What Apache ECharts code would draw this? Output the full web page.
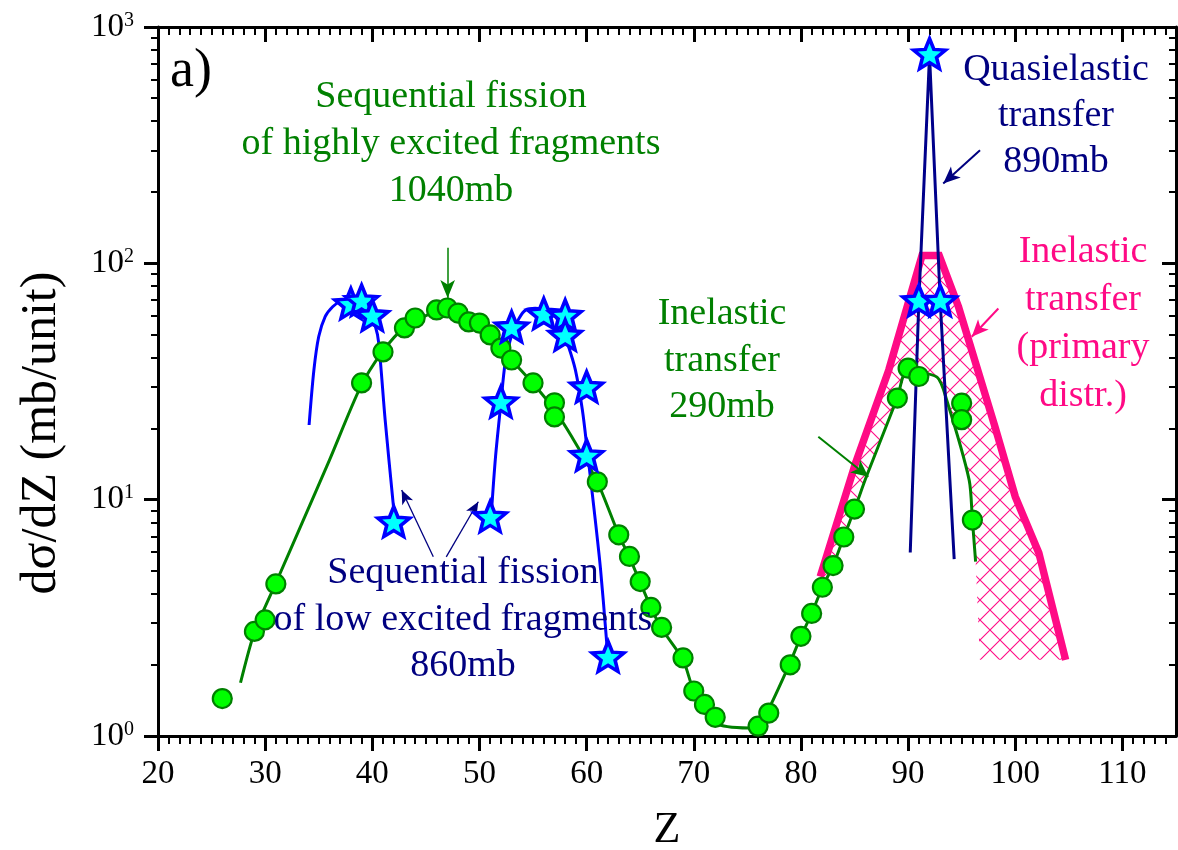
<!DOCTYPE html>
<html><head><meta charset="utf-8">
<script src="https://cdn.jsdelivr.net/npm/echarts@6/dist/echarts.min.js"></script>
<style>html,body{margin:0;padding:0;background:#fff;}#c{width:1178px;height:850px;}</style>
</head><body><div id="c"></div>
<script>
// ---- tick values ----
const xMajor = [20, 30, 40, 50, 60, 70, 80, 90, 100, 110];
const yMajor = [1, 10, 100, 1000];

// ---- data ----
const greenPoints = [[26,1.44],[29,2.77],[30,3.1],[31,4.4],[39,31.2],[41,42.2],[43,53.3],[44,58.7],[46,63.5],[47,64.7],[48,61.6],[49,56.5],[50,55.9],[51,49.8],[52,43.8],[53,39],[55,31.2],[57,25.7],[57,22.4],[61,11.9],[63,7.1],[64,5.75],[65,4.5],[66,3.5],[67,2.88],[69,2.14],[70,1.55],[71,1.36],[72,1.2],[76,1.1],[77,1.25],[79,2.0],[80,2.64],[81,3.3],[82,4.26],[83,5.26],[84,6.95],[85,9.12],[89,26.9],[90,36],[91,33.2],[95,25.6],[95,21.8],[96,8.2]];
const greenFit = [[27.7,1.68],[29,2.75],[31,4.44],[33.5,8.07],[36,14.7],[38.9,30],[40.9,42],[43,53.5],[46,63],[47,64],[50,56],[53,39],[55,31],[57,24],[58.6,18.5],[61,11.9],[63,7.1],[64,5.7],[66,3.5],[67,2.85],[69,2.1],[70,1.55],[71,1.36],[72.3,1.12],[75.8,1.08],[76.8,1.25],[78.9,2.0],[80,2.64],[81,3.3],[82,4.26],[83,5.26],[84,6.95],[85,9.1],[86.1,12.5],[89,27],[89.9,35],[92.7,33],[93.6,26.4],[95.7,12.1],[96.0,8.2],[96.3,5.47]];
const fissionStars = [[38,66.6],[39,68.8],[40,59.5],[42,7.96],[51,8.36],[52,25.6],[53,53.1],[56,60.4],[58,59.5],[58,49],[60,29.6],[60,15.2],[62,2.14]];
const quasiStars = [[91,68.6],[92,760],[93,68.6]];
const fissionLeft = [[34.1,20.7],[34.55,35.4],[35,49],[35.6,59.5],[36.3,65.5],[37,68.8],[38,70],[39,69],[39.7,61.5],[40.3,53.8],[40.6,46],[41.2,21.7],[42,9.1]];
const fissionMid = [[51.1,8.6],[51.5,15.2],[52,25.6],[52.4,37.9],[53.05,50.7],[53.7,58.6],[54.3,63.4],[55.2,64.5],[56.2,63.4],[57.1,59.5],[57.7,52.3],[58.3,44.6],[58.95,35.4],[59.6,24],[60.05,16.3],[60.7,9.05],[61.3,5.06],[61.9,2.4]];
const quasiLine = [[90.2,5.98],[91,68.6],[92,760],[93,68.6],[94.3,5.6]];
const primaryLine = [[81.8,4.72],[85.1,14.3],[88.2,35.4],[91.3,108],[92.9,108],[94.7,65.6],[98.1,20.4],[100,10.3],[102.2,5.95],[104.7,2.1]];
const hatchCorner = [[96.7,2.1]];

// ---- annotation arrows (data coordinates: [from, to]) ----
const arrowHighFission = [[47.03,116.4],[47.03,71.3]];
const arrowLowFissionA = [[45.69,5.73],[42.74,10.98]];
const arrowLowFissionB = [[46.9,5.73],[49.89,9.8]];
const arrowQuasi = [[96.71,301],[93.28,217.8]];
const arrowPrimary = [[98.42,64.4],[95.94,48.9]];
const arrowInelastic = [[81.62,18.45],[86.29,12.5]];

// ---- derived ----
const xMinor = [];
for (let z = 21; z < 115; z++) if (z % 10 !== 0) xMinor.push(z);
const yMinor = [];
[1, 10, 100].forEach(d => { for (let m = 2; m <= 9; m++) yMinor.push(m * d); });
const hatchPoly = primaryLine.concat(hatchCorner, greenFit.filter(p => p[0] >= 82).reverse());

const FONT = 'Liberation Serif';
const MAG = '#FF0A85';
const pc = document.createElement('canvas'); pc.width = 20; pc.height = 20;
const g = pc.getContext('2d'); g.strokeStyle = MAG; g.lineWidth = 1.1;
g.beginPath(); g.moveTo(0,0); g.lineTo(20,20); g.moveTo(20,0); g.lineTo(0,20); g.stroke();

const starPath = 'path://M50,0 L62.93,32.2 L97.55,34.55 L70.92,56.8 L79.39,90.45 L50,72 L20.61,90.45 L29.08,56.8 L2.45,34.55 L37.07,32.2 Z';

function xAx(pos, vals, len, inside, showLine, showLabel, w) {
  return {
    type: 'value', position: pos, min: 20, max: 115,
    axisLine: { show: showLine, onZero: false, lineStyle: { color: '#000', width: 3 } },
    axisTick: { show: true, inside: inside, length: len, customValues: vals, lineStyle: { color: '#000', width: w } },
    axisLabel: showLabel ? { show: true, customValues: vals, margin: 22, color: '#000', fontFamily: FONT, fontSize: 33 } : { show: false },
    splitLine: { show: false }
  };
}
function yAx(pos, vals, len, inside, showLine, showLabel, w) {
  return {
    type: 'log', logBase: 10, position: pos, min: 1, max: 1000,
    axisLine: { show: showLine, onZero: false, lineStyle: { color: '#000', width: 3 } },
    axisTick: { show: true, inside: inside, length: len, customValues: vals, lineStyle: { color: '#000', width: w } },
    axisLabel: showLabel ? {
      show: true, customValues: vals, margin: 24, color: '#000',
      formatter: v => '{n|10}{s|' + Math.round(Math.log10(v)) + '}',
      rich: { n: { fontFamily: FONT, fontSize: 33, lineHeight: 33, color: '#000' },
              s: { fontFamily: FONT, fontSize: 20, lineHeight: 20, verticalAlign: 'top', color: '#000' } }
    } : { show: false },
    splitLine: { show: false }
  };
}
function arrow(pts, color, width, size) {
  return [
    { coord: pts[0], symbol: 'none', lineStyle: { color: color, width: width, type: 'solid' } },
    { coord: pts[1], symbol: 'arrow', symbolSize: size, lineStyle: { color: color, width: width, type: 'solid' } }
  ];
}
function txt(text, x, y, color, lh) {
  return { type: 'text', x: x, y: y, z: 100,
    style: { text: text, fill: color, font: '38px "' + FONT + '"', align: 'center', verticalAlign: 'middle', lineHeight: lh } };
}

const chart = echarts.init(document.getElementById('c'));
chart.setOption({
  animation: false,
  backgroundColor: '#fff',
  grid: { left: 158, top: 27, width: 1018, height: 709 },
  xAxis: [
    xAx('bottom', xMajor, 15, false, true, true, 3),
    xAx('bottom', xMinor, 8, false, false, false, 2),
    xAx('top', xMajor, 15, true, true, false, 3),
    xAx('top', xMinor, 8, true, false, false, 2)
  ],
  yAxis: [
    yAx('left', yMajor, 14, false, true, true, 3),
    yAx('left', yMinor, 7, false, false, false, 2),
    yAx('right', yMajor, 14, true, true, false, 3),
    yAx('right', yMinor, 7, true, false, false, 2)
  ],
  series: [
    { type: 'custom', z: 1, silent: true, data: [[90, 10]],
      renderItem: function (params, api) {
        const pts = hatchPoly.map(p => api.coord(p));
        return { type: 'polygon', shape: { points: pts }, style: { fill: { image: pc, repeat: 'repeat' }, stroke: null } };
      } },
    { type: 'line', z: 2, data: primaryLine, symbol: 'none', silent: true, lineStyle: { color: MAG, width: 7.5, join: 'miter' } },
    { type: 'line', z: 3, data: greenFit, symbol: 'none', smooth: 0.25, silent: true, lineStyle: { color: '#008000', width: 3 } },
    { type: 'line', z: 4, data: fissionLeft, symbol: 'none', smooth: 0.3, silent: true, lineStyle: { color: '#0000FF', width: 3 } },
    { type: 'line', z: 4, data: fissionMid, symbol: 'none', smooth: 0.3, silent: true, lineStyle: { color: '#0000FF', width: 3 } },
    { type: 'line', z: 4, data: quasiLine, symbol: 'none', silent: true, lineStyle: { color: '#00008B', width: 3 } },
    { type: 'scatter', z: 6, data: greenPoints, symbol: 'circle', symbolSize: 19, silent: true,
      itemStyle: { color: '#00FF00', borderColor: '#008000', borderWidth: 2.2, opacity: 1 } },
    { type: 'scatter', z: 7, data: fissionStars.concat(quasiStars), symbol: starPath, symbolSize: [32, 30], symbolOffset: [0, -1.5], silent: true,
      itemStyle: { color: '#00FFFF', borderColor: '#0000FF', borderWidth: 3.5, opacity: 1 } },
    { type: 'line', z: 8, data: [], silent: true,
      markLine: { silent: true, animation: false, label: { show: false }, emphasis: { disabled: true },
        data: [
          arrow(arrowHighFission, '#008000', 1.5, [11, 18]),
          arrow(arrowLowFissionA, '#000080', 1.3, [9, 14]),
          arrow(arrowLowFissionB, '#000080', 1.3, [9, 14]),
          arrow(arrowQuasi, '#000080', 2, [11, 17]),
          arrow(arrowPrimary, MAG, 2, [11, 17]),
          arrow(arrowInelastic, '#008000', 2, [12, 17])
        ] } }
  ],
  graphic: [
    { type: 'text', x: 170, y: 72, z: 100, style: { text: 'a)', fill: '#000', font: '54px "' + FONT + '"', align: 'left', verticalAlign: 'middle' } },
    { type: 'text', x: 42, y: 433, rotation: Math.PI / 2, z: 100, style: { text: 'dσ/dZ (mb/unit)', fill: '#000', font: '50px "' + FONT + '"', align: 'center', verticalAlign: 'middle' } },
    { type: 'text', x: 667, y: 830, z: 100, style: { text: 'Z', fill: '#000', font: '44px "' + FONT + '"', align: 'center', verticalAlign: 'middle' } },
    txt('Sequential fission\nof highly excited fragments\n1040mb', 451, 144, '#008000', 47),
    txt('Quasielastic\ntransfer\n890mb', 1056, 116, '#000080', 46),
    txt('Inelastic\ntransfer\n(primary\ndistr.)', 1083, 324, MAG, 48),
    txt('Inelastic\ntransfer\n290mb', 722, 361, '#008000', 46.5),
    txt('Sequential fission\nof low excited fragments\n860mb', 463, 620, '#000080', 46.5)
  ]
});
</script></body></html>
